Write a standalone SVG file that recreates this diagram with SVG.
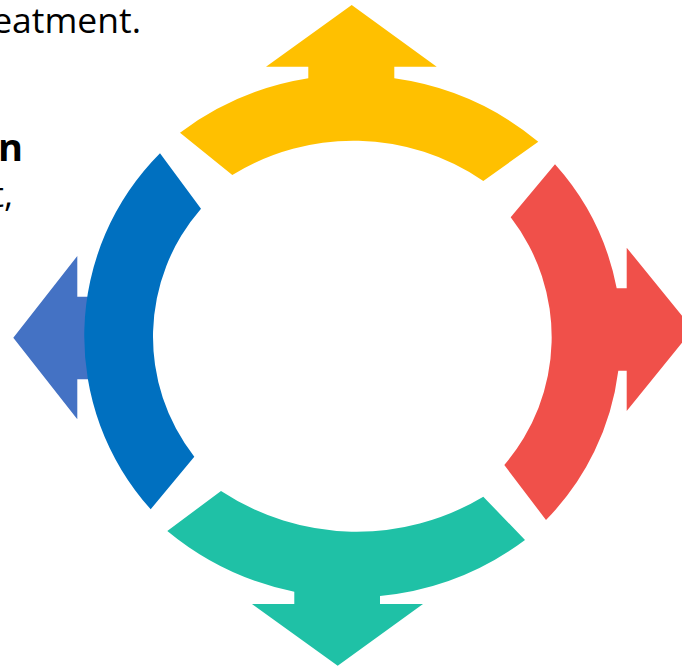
<svg xmlns="http://www.w3.org/2000/svg" width="682" height="667" viewBox="0 0 682 667">
  <style>
    .txt { font-family: "Open Sans", "Noto Sans", "Liberation Sans", sans-serif; fill: #000; }
    .bold { font-weight: bold; }
  </style>
  <rect width="682" height="667" fill="#ffffff"/>
  <g id="text">
    <text class="txt" x="141" y="33" font-size="35.5" text-anchor="end">eatment.</text>
    <text class="txt bold" x="23" y="160.5" font-size="38" text-anchor="end">n</text>
    <text class="txt" x="13" y="207" font-size="35" text-anchor="end">t,</text>
  </g>
  <g id="connectors"></g>
  <g id="left-arrow">
    <polygon fill="#4472C4" points="13.3,337.7 77.3,256 77.3,296.7 110,296.7 110,379.3 77.3,379.3 77.3,419.3"/>
  </g>
  <g id="blue-segment">
    <path fill="#0070C0" d="M150.7,509.3 A258.7,258.7 0 0 1 160,153.3 L201,208.7 A194.8,194.8 0 0 0 194.3,456.7 Z"/>
  </g>
  <g id="yellow-segment">
    <path fill="#FFC000" d="M180,132.7 A288.6,288.6 0 0 1 308.3,78.3 L308.3,66.7 L266,66.7 L351.7,5 L436.7,66.7 L394.3,66.7 L394.3,78.3 A288.6,288.6 0 0 1 538.3,141.7 L483.3,181 A230.2,230.2 0 0 0 232.3,175 Z"/>
  </g>
  <g id="red-segment">
    <path fill="#F0504A" d="M555,164.3 A258.9,258.9 0 0 1 616.7,288.3 L626.7,288.3 L626.7,247.7 L693,329.3 L626.7,411 L626.7,370.7 L618.3,370.7 A258.9,258.9 0 0 1 546,520 L504.3,465 A196,196 0 0 0 510.7,217.3 Z"/>
  </g>
  <g id="teal-segment">
    <path fill="#1FC1A6" d="M525,540 A289.5,289.5 0 0 1 380,596 L380,604 L423,604 L337.7,665.7 L252,604 L294.3,604 L294.3,591.7 A289.5,289.5 0 0 1 167.3,531 L221,491 A246.4,246.4 0 0 0 483.3,496.7 Z"/>
  </g>
</svg>
